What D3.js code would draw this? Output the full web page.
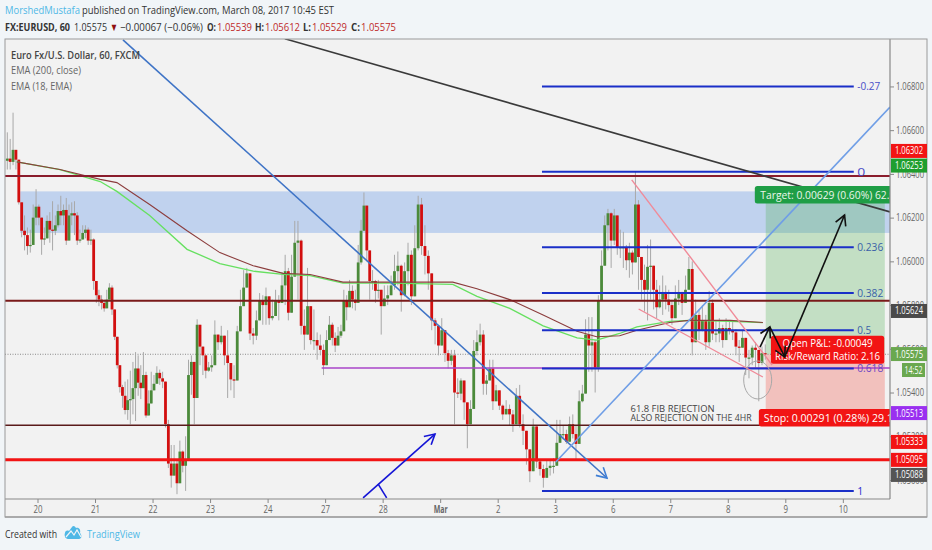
<!DOCTYPE html>
<html><head><meta charset="utf-8">
<script src="https://cdn.jsdelivr.net/npm/d3@7"></script>
<style>
html,body{margin:0;padding:0;background:#f1f5f8;overflow:hidden}
svg{display:block;font-family:"Open Sans",sans-serif}
</style></head><body><svg id="c" width="932" height="550"></svg>
<script>
// All prices are pips above 1.05000. Time unit: trading sessions after Feb 20.
const dayLabels=["20","21","22","23","24","27","28","Mar","2","3","6","7","8","9","10"];
const sessionStarts=[-0.55,0,1,2,3,4,5,6,7,8,9,10,11,12];
const sessionEnds=[0,1,2,3,4,5,6,7,8,9,10,11,12,12.68];
const firstOpen=146;
const closePre=[147,145.5,151,146.5,127,114,112,107,107.5,120,125];
const highPre=[159,156,168,151,146.5,127,121,115.5,114.5,126,133];
const lowPre=[142,142,144,142,126,111,105,103,104,107.5,116.5];
const close20=[120,110,110.5,118.5,114.5,114,116.5,123,121,123.5,109.5,121,122,121,109.5,110,113,114.5,109.5,110,91];
const high20=[126,120,115.5,121,122.5,127.5,121,126,130,126,129,126,127,127.5,122.5,114.5,116.5,116.5,115.5,114.5,110.5];
const low20=[116.5,103,107.5,110.5,108.5,105,112,115.5,116.5,116.5,107.5,110,116.5,112,107.5,108.5,110.5,110.5,107.5,107.5,87];
const close21=[84.5,82.5,81,78.5,82.5,88,78,65.5,52.5,42.5,38.5,32,36.5,37,42,51,44.5,42,48,29.5,35,41];
const high21=[89,87,84.5,82.5,87,90,89,78,64,51,43.5,45,46,50,54,58.5,57,52.5,58.5,49.5,41,49.5];
const low21=[81,79.5,78,77,79.5,82.5,75.5,64,51,40,33,30,27.5,25.5,30,27,38.5,37,43.5,28.5,30,36.5];
const close22=[44,49,46.5,45,25.5,7.5,2,7.5,-1.5,13,6.5,9,48,54,37.5,71,61,57,50,51.5];
const high22=[48,52,50.5,49.5,43.5,27.5,16,16,9,18,13.5,20,55,57,43.5,73.5,65,58.5,55,54];
const low22=[41,46.5,43.5,42,24,5.5,-3.5,4.5,-6.5,4.5,3.5,-5,47.5,39,25.5,59.5,52.5,48,46.5,49.5];
const close23=[52.5,66.5,63,66,57,53.5,46,45.5,68,79.5,88,94.5,67,66,73,82,80,84];
const high23=[57,73,65,70.5,61.5,68.5,52.5,52.5,70.5,87,96,97,74,69.5,77.5,85.5,84.5,88];
const low23=[49.5,64,59.5,62,52.5,37.5,41,37.5,64,73,80,91.5,64,62,64,78,71,71];
const close24=[74,75,82,81,89,95.5,76.5,93,108.5,109.5,70.5,66.5,79.5,64,64,61.5,59.5,52.5];
const high24=[80,82.5,87,84.5,95,103,97,103,118.5,118.5,110,78,97,78,78,67.5,66.5,62];
const low24=[71,73,77,73,84.5,80,73,91.5,99.5,82.5,66.5,59.5,75.5,62,59.5,55,57,48];
const close27=[64,71,65,61.5,66,68,82,79,86.5,82.5,81,99.5,114,125.5,105,91,91,86.5,87,79.5];
const high27=[68.5,75,72,67.5,70,71,87,84.5,91.5,89,87,107.5,119,131.5,123.5,100.5,96,91.5,91.5,84];
const low27=[52.5,66.5,61.5,58.5,62,65,78,73,82.5,78.5,77.5,90.5,98.5,114.5,100,82.5,87,81,83,66.5];
const close28=[83,84.5,89,95.5,98,84.5,95.5,103,84,106,126,107,102.5,94.5,73,70.5,61.5];
const high28=[89,89,93.5,103,104.5,98.5,99.5,108.5,105,116.5,130,129,116.5,105,94,74,70.5];
const low28=[80,80,84.5,87,89,77,84,89,80,98.5,105,103,94,87,68.5,62,57];
const closeMar=[68.5,58,54.5,57,40,39.5,45.5,35.5,25.5,32.5,59,63,66.5,44,45.5,51,36,41];
const highMar=[74,64,59.5,59.5,59.5,46.5,46.5,37.5,35,36.5,64,68.5,71.5,68.5,48,55,55,43.5];
const lowMar=[64,54,51,52.5,25.5,37.5,36.5,27.5,14.5,30,56,57,61.5,39,39,46,32,36.5];
const close2=[34,30,32.5,30,25.5,38.5,25.5,22.5,14,4,24.5,8.5,5,1,5.5,6.5,6.5];
const high2=[39,34.5,36.5,34.5,32,42,43.5,30,22,13.5,28,23,9,7,9,9,10];
const low2=[32,27.5,30,25,22,35.5,24,16,7,-1,22,5.5,2,-3.5,2,2,3];
const close3=[17,21,21,17.5,25.5,21,16.5,36,39.5,66.5,61.5,63,51,82,98,116.5,122,109.5];
const high3=[27.5,27.5,25,23,29,30,25,41,43.5,73.5,74.5,74.5,64,84.5,105,121,124,122.5];
const low3=[13.5,18.5,18.5,16.5,23,19,9,33,35.5,59.5,49.5,49.5,40,49.5,95,112,105,97];
const close6=[121,106.5,106.5,106.5,100.5,104,99.5,126,102,91.5,87,97.5,98,87,79,82.5,86,82.5,80];
const high6=[124,121,114.5,113.5,107.5,108.5,105,141,128,100.5,98.5,107.5,110,96,91.5,89,93.5,89,87];
const low6=[107.5,103,101.5,97,96,92.5,94,100,87,82.5,77,73,82.5,78,74,78.5,75.5,78,77];
const close7=[74,83,86,81,87,96.5,63,75.5,68.5,73,63,81,67,67,69.5,64,69.5];
const high7=[82.5,89,91.5,84.5,93.5,102,100,82.5,78,80,75.5,86.5,82.5,73,74,71,74];
const low7=[71,80,80,75.5,82.5,94,57,72.5,64,68,59.5,61,64,63,63,60.5,64];
const close8=[68.5,67.5,61,60.5,65,56,56,60.5,59.5,53.5,58,57.5];
const high8=[73,72.5,69,64,68.5,61.5,59.5,61.5,63,59.5,61,62];
const low8=[66.5,64,57,54,62,48,46.5,52.5,51,36,52.5,55];
const closeSets=[closePre,close20,close21,close22,close23,close24,close27,close28,closeMar,close2,close3,close6,close7,close8];
const highSets=[highPre,high20,high21,high22,high23,high24,high27,high28,highMar,high2,high3,high6,high7,high8];
const lowSets=[lowPre,low20,low21,low22,low23,low24,low27,low28,lowMar,low2,low3,low6,low7,low8];

const emaSessions=[-0.36,0.39,1.09,1.38,1.95,2.6,3.17,3.75,4.27,4.74,5.31,6.18,7.22,7.64,8.21,8.79,9.38,9.72,10.12,10.42,10.99,11.33,12.04,12.61];
const ema200=[145.5,142,137.5,136,126,114,104,98,94.5,94,90.5,90.5,90.5,87.5,82.5,75.5,68,65.5,66,68.5,72,73,73,72];
const ema18=[145.5,142,136.5,132,121,105.5,99,95.5,94,93.5,90,90,89.5,84,78.5,70.5,65,64,67,70,72.5,73,72.5,72];

const levelPips=[139,82,25,9.3];
const fibLabels=["-0.27","0","0.236","0.382","0.5","0.618","1"];
const fibPips=[180,141,106.5,85.5,68.5,51,-5];
const priceTicks=[1.05,1.052,1.054,1.056,1.058,1.06,1.062,1.064,1.066,1.068];
const lastPips=57.5,targetPips=130,stopPips=29,zonePips=[132,113];
const tagTexts=["1.06302","1.06253","1.05624","1.05575","14:52","1.05513","1.05333","1.05095","1.05088"];
const tagPips=[150.5,143.8,77.3,57.6,50.3,30.6,17.4,9.2,2.3];
const trendBlue=[[1.486,201.3],[9.9,0.9]];
const trendLight=[[9.01,8.2],[14.82,170.6]];
const trendDark=[[4.3,201.8],[14.82,122.6]];
const handArrow=[[5.66,-8.2],[6.91,21]];
const handTick=[[5.92,-1.8],[6.07,-8.2]];
const pinkUpper=[[10.33,137.3],[12.77,52.6]];
const pinkLower=[[10.45,78.2],[12.61,47.1]];
const blackArrows=[[[12.56,60.8],[12.73,70]],[[12.73,70],[12.99,56.3]],[[12.99,56.3],[14.03,121.2]]];
const purpleLine=[[4.94,51.2],[14.82,51.2]];

const W=932,H=550,L=5,R=890,T=39,B=499;
const x=d3.scaleLinear().domain([-0.565,14.82]).range([L,R]);
const y=d3.scaleLinear().domain([1.04913,1.07017]).range([B,T]);
const P=p=>1.05+p/10000;
const yp=p=>y(P(p));
const line=d3.line().x(d=>x(d[0])).y(d=>yp(d[1]));
const svg=d3.select("#c");
const defs=svg.append("defs");
defs.append("clipPath").attr("id","plot").append("rect").attr("x",L).attr("y",T).attr("width",R-L).attr("height",B-T);
function marker(id,color){defs.append("marker").attr("id",id).attr("viewBox","-11 -7 13 14").attr("refX",0).attr("refY",0)
 .attr("markerWidth",13).attr("markerHeight",14).attr("markerUnits","userSpaceOnUse").attr("orient","auto")
 .append("path").attr("d","M-10,-5.5L0,0L-10,5.5").attr("fill","none").attr("stroke",color).attr("stroke-width",1.6);}
marker("aBlue","#1515d6");marker("aTrend","#3f7fd6");marker("aBlack","#111");
const fit=(s,len)=>s.attr("textLength",len).attr("lengthAdjust","spacingAndGlyphs");

svg.append("rect").attr("x",0).attr("y",0).attr("width",W).attr("height",H).attr("fill","#f1f5f8");
svg.append("rect").attr("x",L).attr("y",T).attr("width",922).attr("height",478).attr("fill","#f2f2f2");

// Header
const head=(tx,ty,txt,len,col,bold,size)=>fit(svg.append("text").attr("x",tx).attr("y",ty).attr("font-size",size||10.8).attr("fill",col).attr("font-weight",bold?700:400).text(txt),len);
head(5,14,"MorshedMustafa",75,"#4fb8e6");
head(82,14,"published on TradingView.com, March 08, 2017 10:45 EST",252,"#333");
head(5,31,"FX:EURUSD, 60",65,"#333",1);
head(74,31,"1.05575",33,"#333");
head(110,31,"▼",8,"#8f1010",0,11);
head(120,31,"−0.00067 (−0.06%)",83,"#333");
[["O:","1.05539",207],["H:","1.05612",255],["L:","1.05529",303],["C:","1.05575",351]].forEach(a=>{
 head(a[2],31,a[0],a[0]==="L:"?8:9,"#333",1);
 head(a[2]+(a[0]==="L:"?9:10),31,a[1],35,"#c02a2a");
});

const plot=svg.append("g").attr("clip-path","url(#plot)");
// zone and position boxes
plot.append("rect").attr("x",x(-0.3)).attr("width",x(14.82)-x(-0.3)).attr("y",yp(zonePips[0])).attr("height",yp(zonePips[1])-yp(zonePips[0])).attr("fill","#c0d2ee");
plot.append("rect").attr("x",x(12.66)).attr("width",x(14.73)-x(12.66)).attr("y",yp(targetPips)).attr("height",yp(lastPips)-yp(targetPips)).attr("fill","#4caf50").attr("fill-opacity",0.28);
plot.append("rect").attr("x",x(12.66)).attr("width",x(14.73)-x(12.66)).attr("y",yp(lastPips)).attr("height",yp(stopPips)-yp(lastPips)).attr("fill","#f44336").attr("fill-opacity",0.28);

// last price dotted
plot.append("line").attr("x1",L).attr("x2",R).attr("y1",yp(lastPips)).attr("y2",yp(lastPips)).attr("stroke","#8a8a8a").attr("stroke-dasharray","1 1.5").attr("stroke-width",1);

// candles
const candles=[];let prev=firstOpen;
closeSets.forEach((cs,g)=>{cs.forEach((c,i)=>{
 const t=sessionStarts[g]+(sessionEnds[g]-sessionStarts[g])*(i+0.5)/cs.length;
 candles.push({t,o:prev,c,h:highSets[g][i],l:lowSets[g][i]});prev=c;});});
plot.append("g").selectAll("line").data(candles).join("line")
 .attr("x1",d=>x(d.t)).attr("x2",d=>x(d.t)).attr("y1",d=>yp(Math.max(d.h,d.o,d.c))).attr("y2",d=>yp(Math.min(d.l,d.o,d.c)))
 .attr("stroke","#a8a8a8").attr("stroke-width",1);
plot.append("g").selectAll("rect").data(candles).join("rect")
 .attr("x",d=>x(d.t)-1.4).attr("width",2.8)
 .attr("y",d=>yp(Math.max(d.o,d.c))).attr("height",d=>Math.max(1.2,Math.abs(yp(d.o)-yp(d.c))))
 .attr("fill",d=>d.c>=d.o?"#4b8a3a":"#d20f0f");

// EMAs
plot.append("path").attr("d",line(emaSessions.map((t,i)=>[t,ema18[i]]))).attr("fill","none").attr("stroke","#66e060").attr("stroke-width",1.3);
plot.append("path").attr("d",line(emaSessions.map((t,i)=>[t,ema200[i]]))).attr("fill","none").attr("stroke","#8c3d3d").attr("stroke-width",1.1);

// horizontal levels
const levelStyles=[["#8a1c2c",2],["#7a1a1a",2],["#5a1a1a",1.6],["#f21414",3]];
levelPips.forEach((p,i)=>plot.append("line").attr("x1",L).attr("x2",R).attr("y1",yp(p)).attr("y2",yp(p)).attr("stroke",levelStyles[i][0]).attr("stroke-width",levelStyles[i][1]));
plot.append("path").attr("d",line(purpleLine)).attr("stroke","#a845c8").attr("stroke-width",1.4).attr("fill","none");

// fibs
const fibStart=8.77,fibEnd=14.19;
const fibColors=["#4a4ec8","#4a4ec8","#3a5fa8","#3a5fa8","#3a5fa8","#6a45c4","#2a2ad0"];
const fibWidths=[23,8,26,26,14,26,6];
fibPips.forEach((p,i)=>{
 plot.append("line").attr("x1",x(fibStart)).attr("x2",x(fibEnd)).attr("y1",yp(p)).attr("y2",yp(p)).attr("stroke","#1a2fc8").attr("stroke-width",2);
 fit(plot.append("text").attr("x",x(fibEnd)+3.5).attr("y",yp(p)+4).attr("font-size",11).attr("fill",fibColors[i]).text(fibLabels[i]),fibWidths[i]);
});

// trend lines
const pl=(d,c,w,m)=>{const e=plot.append("path").attr("d",line(d)).attr("fill","none").attr("stroke",c).attr("stroke-width",w);if(m)e.attr("marker-end",`url(#${m})`);return e;};
pl(trendBlue,"#3f74c6",1.6,"aTrend");
pl(trendLight,"#6f9ee6",1.6);
pl(trendDark,"#3a3a3a",1.6);
pl(pinkUpper,"#f08a98",1.4);
pl(pinkLower,"#f08a98",1.4);
pl(handArrow,"#1515d6",1.6,"aBlue");
pl(handTick,"#1515d6",1.6);
plot.append("ellipse").attr("cx",x(12.52)).attr("cy",yp(45.75)).attr("rx",14).attr("ry",19).attr("fill","none").attr("stroke","#a8a8a8").attr("stroke-width",1);

// annotation
[["61.8 FIB REJECTION",32.5,84],["ALSO REJECTION ON THE 4HR",28.5,121]].forEach(a=>
 fit(plot.append("text").attr("x",x(10.31)).attr("y",yp(a[1])+3).attr("font-size",8.6).attr("fill","#444").attr("font-weight",500).text(a[0]),a[2]));

// position labels
function label(t0,t1,pTop,pBot,color){
 plot.append("rect").attr("x",x(t0)).attr("width",x(t1)-x(t0)).attr("y",yp(pTop)).attr("height",yp(pBot)-yp(pTop)).attr("rx",2.5).attr("fill",color);
}
label(12.47,15,134.5,126.5,"#1f9e46");
fit(plot.append("text").attr("x",x(12.47)+5.5).attr("y",yp(130.5)+4).attr("font-size",11).attr("fill","#eaf6ea").text("Target: 0.00629 (0.60%) 62.9"),135);
label(12.54,15,32.5,24.5,"#f21414");
fit(plot.append("text").attr("x",x(12.54)+5).attr("y",yp(28.5)+4).attr("font-size",11).attr("fill","#fff").text("Stop: 0.00291 (0.28%) 29.1"),129);
label(12.75,14.72,66,53.2,"#f21414");
const mid=(x(12.75)+x(14.72))/2;
fit(plot.append("text").attr("x",mid).attr("y",yp(62.8)+4).attr("text-anchor","middle").attr("font-size",11).attr("fill","#fff").text("Open P&L: -0.00049"),90);
fit(plot.append("text").attr("x",mid).attr("y",yp(56.6)+4).attr("text-anchor","middle").attr("font-size",11).attr("fill","#fff").text("Risk/Reward Ratio: 2.16"),105);
blackArrows.forEach(a=>pl(a,"#111",1.6,"aBlack"));

// legend
const lg=[["Euro Fx/U.S. Dollar, 60, FXCM","#444",600,129],["EMA (200, close)","#666",400,70],["EMA (18, EMA)","#666",400,61]];
lg.forEach((a,i)=>fit(svg.append("text").attr("x",11).attr("y",59+i*15.4).attr("font-size",11).attr("fill",a[1]).attr("font-weight",a[2]).text(a[0]),a[3]));

// axes
const yAxis=d3.axisRight(y).tickValues(priceTicks).tickFormat(d3.format(".5f")).tickSize(4);
const gy=svg.append("g").attr("transform",`translate(${R},0)`).call(yAxis);
const xAxis=d3.axisBottom(x).tickValues(dayLabels.map((d,i)=>i)).tickFormat(i=>dayLabels[i]).tickSize(4);
const gx=svg.append("g").attr("transform",`translate(0,${B})`).call(xAxis);
gy.selectAll("text").attr("font-size",10).attr("fill","#666").attr("x",6).attr("textLength",28).attr("lengthAdjust","spacingAndGlyphs").style("font-family",'"Open Sans",sans-serif');
gx.selectAll("text").attr("font-size",10).attr("fill","#666").attr("y",7).style("font-family",'"Open Sans",sans-serif').attr("font-weight",(d,i)=>dayLabels[i]==="Mar"?700:400)
 .attr("textLength",(d,i)=>dayLabels[i]==="Mar"?14:dayLabels[i].length*4.5).attr("lengthAdjust","spacingAndGlyphs");
gy.selectAll("line").attr("stroke","#888");gx.selectAll("line").attr("stroke","#888");
gy.select(".domain").attr("stroke","#888").attr("stroke-width",1.2).attr("d",`M0,${T}V${B}`);
gx.select(".domain").attr("stroke","#888").attr("stroke-width",1.2).attr("d",`M${L},0H${R}`);

// frame
svg.append("rect").attr("x",L).attr("y",T).attr("width",922).attr("height",478).attr("fill","none").attr("stroke","#9a9a9a").attr("stroke-width",1);
svg.append("line").attr("x1",L).attr("x2",927).attr("y1",517).attr("y2",517).attr("stroke","#a0a0a0").attr("stroke-width",1.6);

// price tags
const tagColors=["#f21414","#1f9e2e","#4a4a4a","#6aa84f","#6aa84f","#9a30f0","#f21414","#f21414","#555"];
tagTexts.forEach((t,i)=>{
 const short=t.length<6;
 svg.append("rect").attr("x",short?902:R+1).attr("width",short?23:36).attr("y",yp(tagPips[i])-7).attr("height",14).attr("fill",tagColors[i]);
 fit(svg.append("text").attr("x",short?913.5:R+19).attr("y",yp(tagPips[i])+3.5).attr("text-anchor","middle").attr("font-size",10).attr("fill","#fff").text(t),short?18:28);
});

// footer
fit(svg.append("text").attr("x",5).attr("y",538).attr("font-size",11).attr("fill","#333").text("Created with"),52);
svg.append("path").attr("d","M65,533C65,531 67,530 69,531L72,527C73,525 75,526 76,528C79,527 81,530 80,533C82,535 82,539 79,539L68,539C65,539 64,535 65,533Z").attr("fill","#4fb8e6");
svg.append("path").attr("d","M66,537L71,531L74,535L77,530L81,537").attr("fill","none").attr("stroke","#f1f5f8").attr("stroke-width",1.2);
fit(svg.append("text").attr("x",87).attr("y",538).attr("font-size",11).attr("fill","#4fb8e6").text("TradingView"),53);
</script></body></html>
